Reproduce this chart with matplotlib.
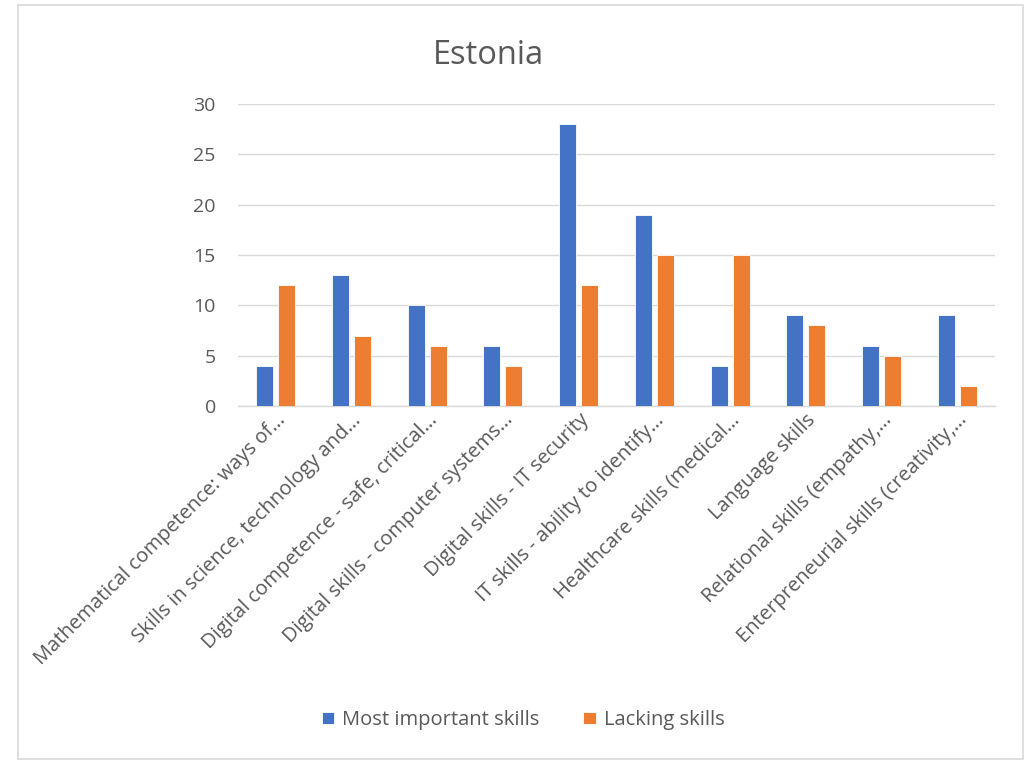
import matplotlib.pyplot as plt
import numpy as np
from matplotlib.patches import Rectangle

plt.rcParams['font.family'] = ['Open Sans', 'DejaVu Sans']

categories = [
    "Mathematical competence: ways of\u2026",
    "Skills in science, technology and\u2026",
    "Digital competence - safe, critical\u2026",
    "Digital skills - computer systems\u2026",
    "Digital skills - IT security",
    "IT skills - ability to identify\u2026",
    "Healthcare skills (medical\u2026",
    "Language skills",
    "Relational skills (empathy,\u2026",
    "Enterpreneurial skills (creativity,\u2026",
]
most_important = [4, 13, 10, 6, 28, 19, 4, 9, 6, 9]
lacking = [12, 7, 6, 4, 12, 15, 15, 8, 5, 2]

blue = '#4472C4'
orange = '#ED7D31'
grey = '#595959'

fig = plt.figure(figsize=(10.27, 7.6), dpi=100)
ax = fig.add_axes([238 / 1027, 1 - 406 / 760, 757 / 1027, 302 / 760])

x = np.arange(len(categories))
w = 0.225
ax.bar(x - 0.145, most_important, w, color=blue, edgecolor='white', linewidth=0.6,
       label='Most important skills', zorder=3)
ax.bar(x + 0.145, lacking, w, color=orange, edgecolor='white', linewidth=0.6,
       label='Lacking skills', zorder=3)

ax.set_xlim(-0.5, len(categories) - 0.5)
ax.set_ylim(0, 30)
ax.set_yticks(range(0, 31, 5))
ax.yaxis.grid(True, color='#D9D9D9', linewidth=1, zorder=0)
for s in ['top', 'right', 'left']:
    ax.spines[s].set_visible(False)
ax.spines['bottom'].set_color('#D9D9D9')
ax.spines['bottom'].set_linewidth(1)
ax.tick_params(axis='y', length=0, labelsize=14, colors=grey, pad=16)
ax.tick_params(axis='x', length=0, labelsize=14.5, colors=grey, pad=3)
ax.set_xticks(x)
ax.set_xticklabels(categories, rotation=45, ha='right', va='top',
                   rotation_mode='anchor')

fig.text(488 / 1027, 1 - 55 / 760, 'Estonia', ha='center', va='center',
         fontsize=23.5, color=grey)

fig.legend(loc='center', bbox_to_anchor=(523 / 1027, 1 - 720 / 760), ncol=2,
           frameon=False, fontsize=14.5, labelcolor=grey, handlelength=0.6,
           handleheight=0.6, columnspacing=2.2, handletextpad=0.4)

# outer chart frame
fig.patches.append(Rectangle((18 / 1027, 1 / 760), 1005 / 1027, 754 / 760,
                             transform=fig.transFigure, fill=False,
                             edgecolor='#D9D9D9', linewidth=1.2))

fig.savefig('out.png', dpi=100)
